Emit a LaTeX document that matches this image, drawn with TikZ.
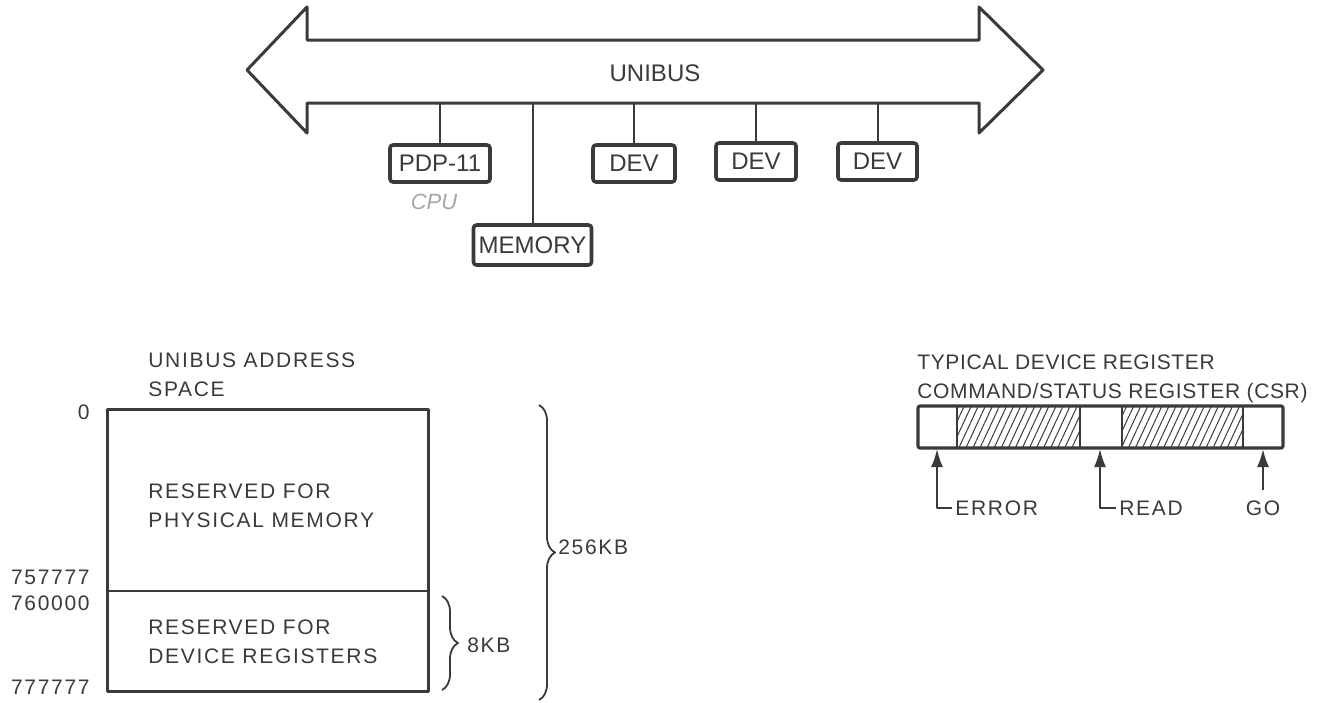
\documentclass[tikz,border=0pt]{standalone}
\usepackage{fontspec}
\setmainfont{Liberation Sans}
\newfontfamily\spacedfont[LetterSpace=8]{Liberation Sans}
\newfontfamily\titlefont[LetterSpace=3]{Liberation Sans}
\usetikzlibrary{arrows.meta,patterns.meta,decorations.pathreplacing}
\definecolor{ink}{HTML}{3A3A3A}
\definecolor{pencil}{HTML}{A5A5A5}

\begin{document}
\begin{tikzpicture}[x=0.5pt, y=-0.5pt, color=ink, line join=round,
		unit/.style={draw, line width=1.8pt, rounded corners=1.5pt, inner sep=0pt, minimum height=18.5pt, font=\fontsize{12}{14}\selectfont},
		tap/.style={line width=1pt},
		lbl/.style={inner sep=0pt, align=left, font=\spacedfont\fontsize{10.5}{14.5}\selectfont},
		bitarrow/.style={line width=1pt, -{Latex[length=9pt,width=6pt]}},
		hatch/.style={pattern={Lines[angle=65,distance=3.2pt,line width=0.5pt]}, pattern color=ink},
		curly/.style={line width=0.9pt, decorate, decoration={brace, amplitude=8pt}}]
	\useasboundingbox (0,0) rectangle (1326,702);

	\draw[line width=1.5pt] (307,40) -- (979,40) -- (979,7) -- (1043,70) -- (979,133) -- (979,103)
		-- (307,103) -- (307,133) -- (247,70) -- (307,7) -- cycle;
	\node[font=\fontsize{12}{14}\selectfont] (bus) at (655,73) {UNIBUS};
	\coordinate (busbot) at (640,103);

	\node[unit, minimum width=50pt] (cpu) at (440,163.5) {PDP-11};
	\node[unit, minimum width=59pt, minimum height=20pt] (mem) at (532.5,245) {MEMORY};
	\node[unit, minimum width=41pt] (dev1) at (634,163.5) {DEV};
	\node[unit, minimum width=40pt] (dev2) at (756,161.5) {DEV};
	\node[unit, minimum width=39.5pt] (dev3) at (877.5,161.5) {DEV};
	\node[text=pencil, font=\itshape\fontsize{11}{12}\selectfont] (cpunote) at (434,202) {CPU};
	\foreach \u in {cpu,mem,dev1,dev2,dev3}
		\draw[tap] (\u.north) -- (\u.north |- busbot);

	\node[lbl, anchor=west] (astitle) at (148,375) {UNIBUS ADDRESS\\SPACE};
	\coordinate (asTL) at (107,409);
	\coordinate (asBR) at (428,691);
	\coordinate (asML) at (107,591);
	\coordinate (asMR) at (428,591);
	\draw[line width=1.5pt] (asTL) rectangle (asBR);
	\draw[line width=1pt] (asML) -- (asMR);
	\node[lbl, anchor=west] (phys) at (148,506) {RESERVED FOR\\PHYSICAL MEMORY};
	\node[lbl, anchor=west] (devreg) at (148,642) {RESERVED FOR\\DEVICE REGISTERS};
	\node[lbl, anchor=east] (a0) at (90,412) {0};
	\node[lbl, anchor=east] (a1) at (90,577) {757777};
	\node[lbl, anchor=east] (a2) at (90,603) {760000};
	\node[lbl, anchor=east] (a3) at (90,687) {777777};
	\draw[curly] (442,596) -- (442,690);
	\node[lbl, anchor=west] (small) at (467,645) {8KB};
	\draw[curly] (539,405) -- (539,700);
	\node[lbl, anchor=west] (big) at (558,547) {256KB};

	\node[lbl, anchor=west, font=\titlefont\fontsize{10.5}{14.5}\selectfont] (csrtitle) at (917,379) {TYPICAL DEVICE REGISTER\\COMMAND/STATUS REGISTER (CSR)};
	\fill[hatch] (957,406) rectangle (1080,448);
	\fill[hatch] (1122,406) rectangle (1243,448);
	\foreach \x in {957,1080,1122,1243}
		\draw[line width=1pt] (\x,406) -- (\x,448);
	\draw[line width=1.6pt, rounded corners=1pt] (918,406) rectangle (1283,448);
	\coordinate (errbit) at (937,449);
	\coordinate (readbit) at (1100,449);
	\coordinate (gobit) at (1263,449);
	\node[lbl, anchor=west, inner xsep=1.5pt] (err) at (952,508) {ERROR};
	\node[lbl, anchor=west, inner xsep=1.5pt] (rd) at (1116,508) {READ};
	\node[lbl] (go) at (1263,508) {GO};
	\draw[bitarrow] (err.west) -| (errbit);
	\draw[bitarrow] (rd.west) -| (readbit);
	\draw[bitarrow] ([yshift=5pt]go.north) -- (gobit);
\end{tikzpicture}
\end{document}
